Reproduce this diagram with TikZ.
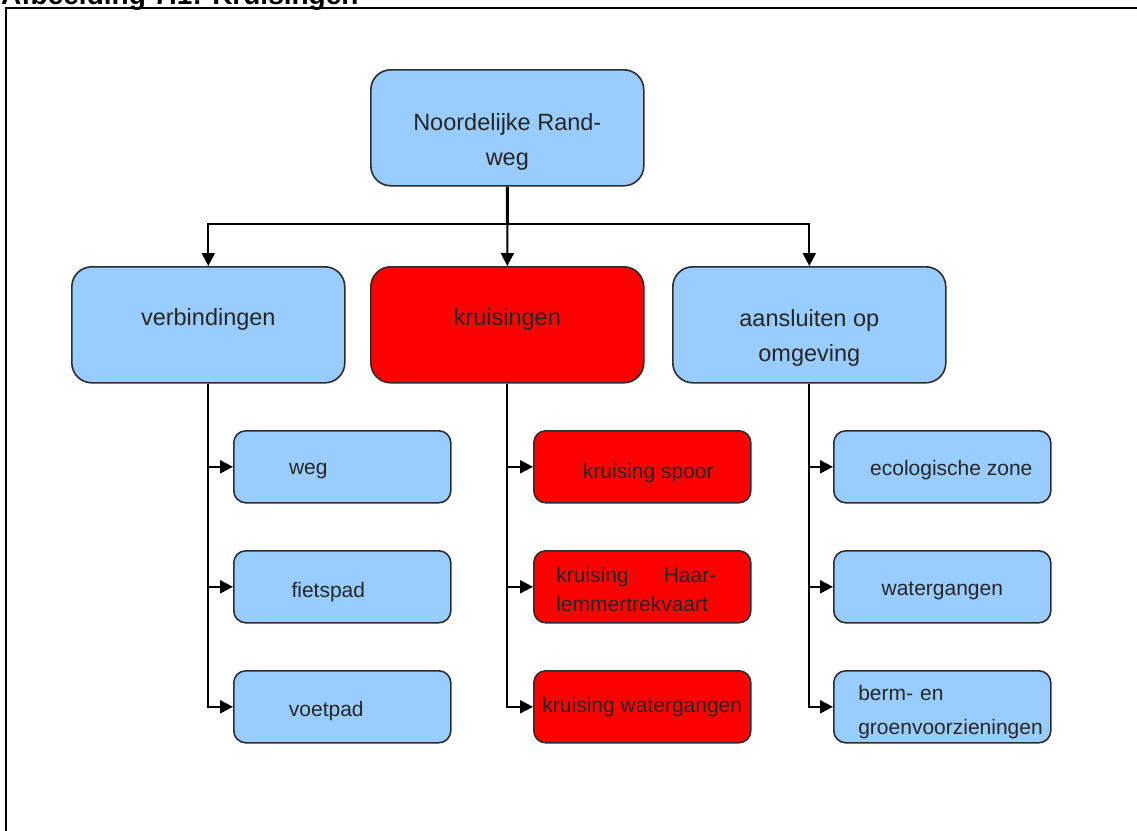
\documentclass[tikz,border=0pt]{standalone}
\usepackage{fontspec}
\setmainfont{Liberation Sans}
\usetikzlibrary{arrows.meta}
\definecolor{boxblue}{RGB}{153,204,255}
\definecolor{boxred}{RGB}{255,0,0}
\definecolor{boxedge}{RGB}{45,45,45}

\begin{document}
\begin{tikzpicture}[x=1pt,y=-1pt,
  mainbox/.style={draw=boxedge, line width=1.6pt, rounded corners=20pt,
    anchor=north west, inner sep=0pt, minimum width=273pt, minimum height=116pt},
  mainlabel/.style={font=\fontsize{23.5}{35}\selectfont, text=black!85,
    inner sep=0pt, align=center},
  subbox/.style={draw=boxedge, line width=1.6pt, rounded corners=12pt,
    anchor=north west, inner sep=0pt, minimum width=217pt, minimum height=72pt},
  sublabel/.style={font=\fontsize{21}{29}\selectfont, text=black!85, inner sep=0pt},
  link/.style={line width=2pt, -{Triangle[length=13pt,width=13pt]}},
  trunk/.style={line width=3pt}
]
\useasboundingbox (0,0) rectangle (1137,830);
\fill[white] (0,0) rectangle (1137,830);

% caption and frame
\node[anchor=base west, inner sep=0pt, font=\bfseries\fontsize{28}{28}\selectfont]
  (caption) at (1,4) {Afbeelding 7.1: Kruisingen};
\draw[line width=2pt] (6,832) -- (6,8) -- (1139,8);

% top level
\node[mainbox, fill=boxblue, label={[mainlabel, yshift=-14pt]center:Noordelijke Rand-\\weg}] (top) at (370,69) {};

% second level
\node[mainbox, fill=boxblue, label={[mainlabel, yshift=5pt]center:verbindingen}] (verb)  at (71,266)  {};
\node[mainbox, fill=boxred,  label={[mainlabel, yshift=5pt]center:kruisingen}]   (kruis) at (370,266) {};
\node[mainbox, fill=boxblue, label={[mainlabel, yshift=-13pt]center:aansluiten op\\omgeving}] (aans) at (672,266) {};

% third level: verbindingen
\node[subbox, fill=boxblue, label={[sublabel, xshift=-34pt, yshift=-4pt]center:weg}]      (weg)   at (233,430) {};
\node[subbox, fill=boxblue, label={[sublabel, xshift=-14pt, yshift=-5pt]center:fietspad}] (fiets) at (233,550) {};
\node[subbox, fill=boxblue, label={[sublabel, xshift=-16pt, yshift=-4pt]center:voetpad}]  (voet)  at (233,670) {};

% third level: kruisingen
\node[subbox, fill=boxred, label={[sublabel, xshift=6pt, yshift=-6pt]center:kruising spoor}] (spoor) at (533,430) {};
\node[subbox, fill=boxred, label={[sublabel, xshift=-6pt, yshift=-3pt, align=left, text width=160pt]center:\makebox[160pt][l]{kruising\hfill Haar-}\\lemmertrekvaart}] (haar) at (533,550) {};
\node[subbox, fill=boxred, label={[sublabel]center:kruising watergangen}] (kwater) at (533,670) {};

% third level: aansluiten op omgeving
\node[subbox, fill=boxblue, label={[sublabel, xshift=9pt, yshift=-3pt]center:ecologische zone}] (eco) at (833,430) {};
\node[subbox, fill=boxblue, label={[sublabel, yshift=-4pt]center:watergangen}] (water) at (833,550) {};
\node[subbox, fill=boxblue, label={[sublabel, xshift=9.5pt, yshift=-5pt, align=left, text width=187pt, font=\fontsize{21}{34}\selectfont]center:berm- en\\groenvoorzieningen}] (berm) at (833,670) {};

% connectors
\coordinate (split) at (507.5,224);
\draw[trunk] (top.south) -- (split);
\draw[link] (split) -| (verb.north);
\draw[link] (split) -- (kruis.north);
\draw[link] (split) -| (aans.north);

\foreach \parent/\child in {verb/weg, verb/fiets, verb/voet,
                            kruis/spoor, kruis/haar, kruis/kwater,
                            aans/eco, aans/water, aans/berm}
  \draw[link] (\parent.south) |- (\child.west);
\end{tikzpicture}
\end{document}
